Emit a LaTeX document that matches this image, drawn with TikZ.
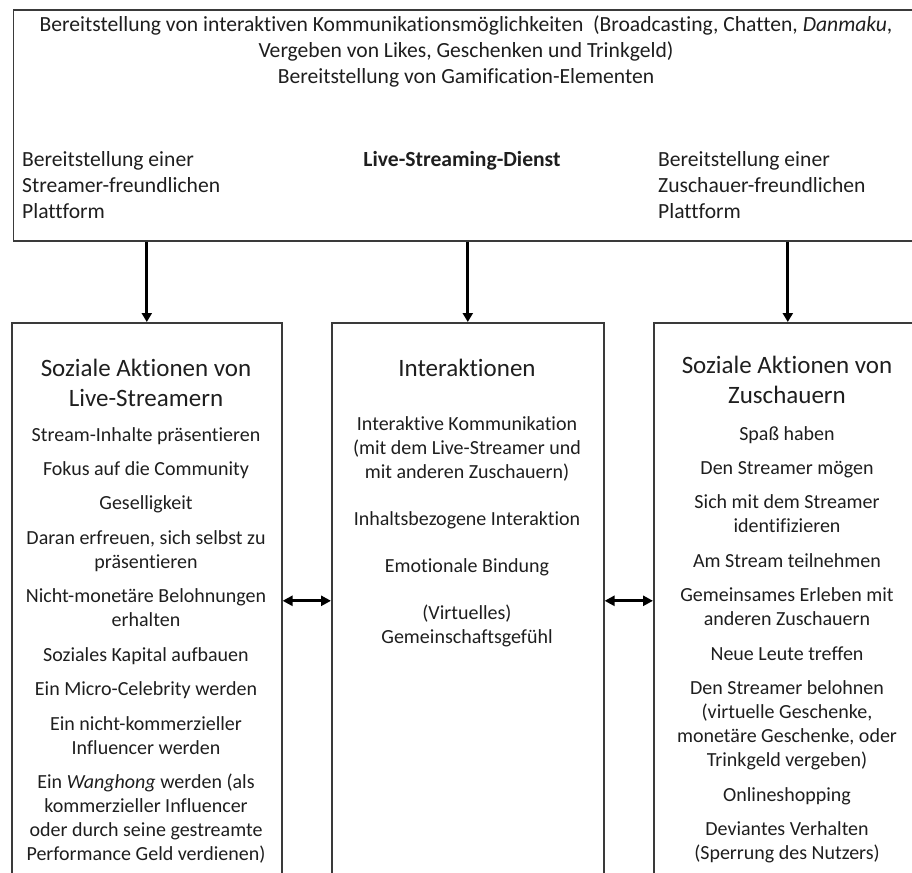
\documentclass[tikz,border=0pt]{standalone}
\usepackage{fontspec}
\setmainfont{Carlito}[Ligatures=CommonOff]
\usetikzlibrary{arrows.meta}
\definecolor{boxgray}{HTML}{3A3A3A}
\definecolor{inkgray}{HTML}{1E1E1E}
\begin{document}
\begin{tikzpicture}[x=1pt,y=-1pt,
  frame/.style={draw=boxgray, line width=1.6pt, inner sep=0pt, anchor=north west},
  toptext/.style={inner sep=0pt, text=inkgray, font=\fontsize{21.6}{26}\selectfont},
  headtext/.style={inner sep=0pt, text=inkgray, align=center, anchor=north, font=\fontsize{25}{29.5}\selectfont},
  itemtext/.style={inner sep=0pt, text=inkgray, align=center, anchor=north, font=\fontsize{20}{24.1}\selectfont},
  down/.style={line width=2.8pt, -{Triangle[width=10pt,length=9pt]}},
  both/.style={line width=2.8pt, {Triangle[width=10pt,length=10pt]}-{Triangle[width=10pt,length=10pt]}}
]
\useasboundingbox (0,0) rectangle (912,872);
\clip (0,0) rectangle (912,872);

% service box on top
\node[frame, minimum width=910pt, minimum height=231pt] (service) at (12.5,9) {};
\node[toptext, align=center, anchor=north] (servicetop) at (466,16)
  {Bereitstellung von interaktiven Kommunikationsmöglichkeiten\ \ (Broadcasting, Chatten, \textit{Danmaku},\\
   Vergeben von Likes, Geschenken und Trinkgeld)\\
   Bereitstellung von Gamification-Elementen};
\node[toptext, align=left, anchor=north west] (serviceleft) at (22,151)
  {Bereitstellung einer\\Streamer-freundlichen\\Plattform};
\node[toptext, anchor=north, font=\fontsize{21.6}{26}\selectfont\bfseries] (servicename) at (462,151)
  {Live-Streaming-Dienst};
\node[toptext, align=left, anchor=north west] (serviceright) at (658,151)
  {Bereitstellung einer\\Zuschauer-freundlichen\\Plattform};

% three lower columns
\node[frame, minimum width=270pt, minimum height=556pt] (streamer) at (11,322) {};
\node[frame, minimum width=272pt, minimum height=556pt] (inter) at (331,322) {};
\node[frame, minimum width=268pt, minimum height=556pt] (viewer) at (653,322) {};

% streamer column
\node[headtext] (streamerhead) at (146,359) {Soziale Aktionen von\\Live-Streamern};
\node[itemtext] (streameritems) at (146,427)
  {Stream-Inhalte präsentieren\\[10.3pt]
   Fokus auf die Community\\[10.3pt]
   Geselligkeit\\[10.3pt]
   Daran erfreuen, sich selbst zu\\präsentieren\\[10.3pt]
   Nicht-monetäre Belohnungen\\erhalten\\[10.3pt]
   Soziales Kapital aufbauen\\[10.3pt]
   Ein Micro-Celebrity werden\\[10.3pt]
   Ein nicht-kommerzieller\\Influencer werden\\[10.3pt]
   Ein \textit{Wanghong} werden (als\\kommerzieller Influencer\\oder durch seine gestreamte\\Performance Geld verdienen)};

% interaction column
\node[headtext] (interhead) at (467,359) {Interaktionen};
\node[itemtext] (interitems) at (467,416)
  {Interaktive Kommunikation\\(mit dem Live-Streamer und\\mit anderen Zuschauern)\\[23pt]
   Inhaltsbezogene Interaktion\\[23pt]
   Emotionale Bindung\\[23pt]
   (Virtuelles)\\Gemeinschaftsgefühl};

% viewer column
\node[headtext] (viewerhead) at (787,356) {Soziale Aktionen von\\Zuschauern};
\node[itemtext] (vieweritems) at (787,426)
  {Spaß haben\\[10.3pt]
   Den Streamer mögen\\[10.3pt]
   Sich mit dem Streamer\\identifizieren\\[10.3pt]
   Am Stream teilnehmen\\[10.3pt]
   Gemeinsames Erleben mit\\anderen Zuschauern\\[10.3pt]
   Neue Leute treffen\\[10.3pt]
   Den Streamer belohnen\\(virtuelle Geschenke,\\monetäre Geschenke, oder\\Trinkgeld vergeben)\\[10.3pt]
   Onlineshopping\\[10.3pt]
   Deviantes Verhalten\\(Sperrung des Nutzers)};

% connectors
\draw[down] (service.south -| streamer.north) -- (streamer.north);
\draw[down] (service.south -| inter.north) -- (inter.north);
\draw[down] (service.south -| viewer.north) -- (viewer.north);
\draw[both] (streamer.east) -- (inter.west);
\draw[both] (inter.east) -- (viewer.west);
\end{tikzpicture}
\end{document}
